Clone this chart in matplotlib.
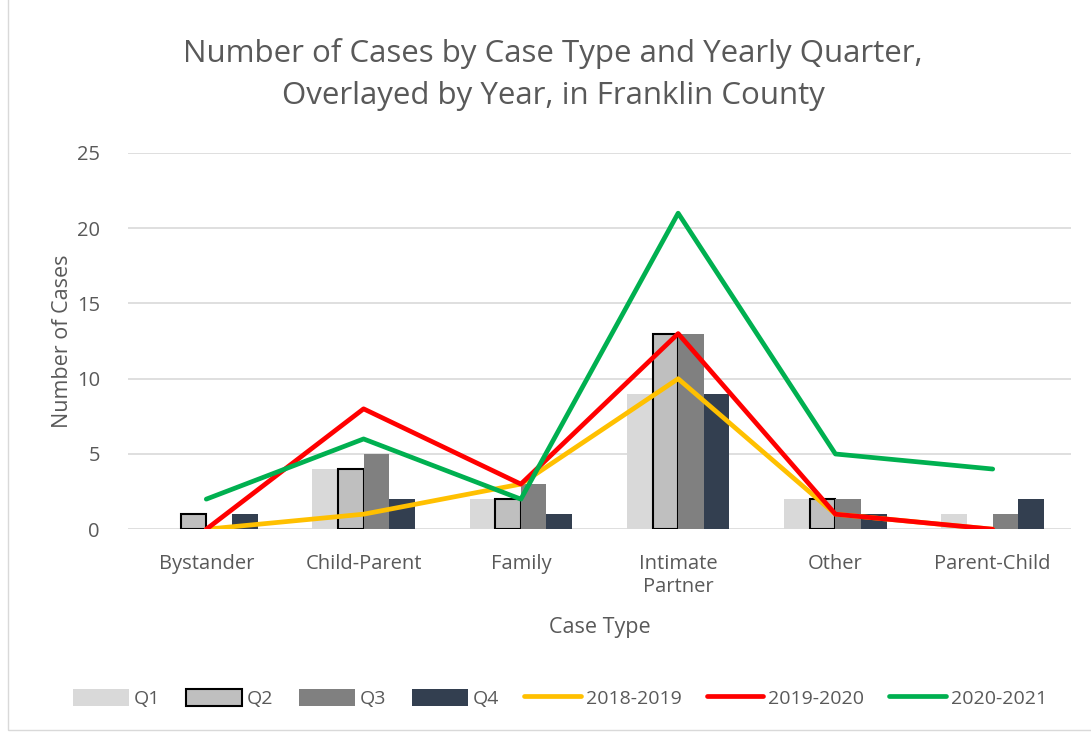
import numpy as np
import matplotlib.pyplot as plt
from matplotlib.patches import Rectangle

plt.rcParams['font.family'] = ['Open Sans', 'DejaVu Sans']

categories = ["Bystander", "Child-Parent", "Family", "Intimate\nPartner", "Other", "Parent-Child"]
q1 = [0, 4, 2, 9, 2, 1]
q2 = [1, 4, 2, 13, 2, 0]
q3 = [0, 5, 3, 13, 2, 1]
q4 = [1, 2, 1, 9, 1, 2]
y2018 = [0, 1, 3, 10, 1, 0]
y2019 = [0, 8, 3, 13, 1, 0]
y2020 = [2, 6, 2, 21, 5, 4]

grey = "#595959"
fig = plt.figure(figsize=(10.91, 7.32), dpi=100)
ax = fig.add_axes([0.117, 0.277, 0.865, 0.514])

x = np.arange(len(categories))
w = 0.163
bars = []
bars.append(ax.bar(x - 1.5 * w, q1, w, color="#d9d9d9", label="Q1", zorder=2))
bars.append(ax.bar(x - 0.5 * w, q2, w, color="#bfbfbf", edgecolor="black", linewidth=1.5, label="Q2", zorder=2))
bars.append(ax.bar(x + 0.5 * w, q3, w, color="#808080", label="Q3", zorder=2))
bars.append(ax.bar(x + 1.5 * w, q4, w, color="#333f50", label="Q4", zorder=2))

lines = []
lines += ax.plot(x, y2018, color="#ffc000", lw=3.4, solid_capstyle="round", label="2018-2019", zorder=3)
lines += ax.plot(x, y2019, color="#ff0000", lw=3.4, solid_capstyle="round", label="2019-2020", zorder=4)
lines += ax.plot(x, y2020, color="#00b050", lw=3.4, solid_capstyle="round", label="2020-2021", zorder=5)

ax.set_xlim(-0.5, len(categories) - 0.5)
ax.set_ylim(0, 25)
ax.set_yticks(range(0, 26, 5))
ax.set_xticks(x)
ax.set_xticklabels(categories, linespacing=1.2)
ax.tick_params(length=0, labelsize=14.5, labelcolor=grey)
ax.tick_params(axis="x", pad=18)
ax.tick_params(axis="y", pad=20)
ax.grid(axis="y", color="#d9d9d9", lw=1.2, zorder=0)
for s in ax.spines.values():
    s.set_visible(False)

ax.set_xlabel("Case Type", fontsize=15.5, color=grey, labelpad=14)
ax.set_ylabel("Number of Cases", fontsize=15.5, color=grey, labelpad=3)
fig.suptitle("Number of Cases by Case Type and Yearly Quarter,\nOverlayed by Year, in Franklin County",
             fontsize=22.5, color=grey, y=0.948, x=0.507, linespacing=1.5)

handles = list(bars) + lines
fig.legend(handles=handles, loc="center", bbox_to_anchor=(0.513, 0.046), ncol=7, frameon=False,
           fontsize=14, labelcolor=grey, handlelength=2.9, handleheight=1.0,
           handletextpad=0.25, columnspacing=1.3)

fig.patches.append(Rectangle((0.007, 0.003), 1.2, 1.2, transform=fig.transFigure,
                             fill=False, edgecolor="#d9d9d9", lw=1))

fig.savefig("out.png", dpi=100)
